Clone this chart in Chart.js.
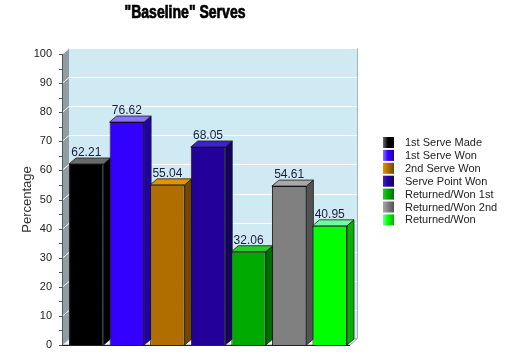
<!DOCTYPE html>
<html>
<head>
<meta charset="utf-8">
<script src="https://cdn.jsdelivr.net/npm/chart.js@4/dist/chart.umd.min.js"></script>
<style>
  html, body { margin: 0; padding: 0; background: #fff; }
</style>
</head>
<body>
<canvas id="chart" width="512" height="354"></canvas>
<script>
// data
const categories = ["1st Serve Made", "1st Serve Won", "2nd Serve Won", "Serve Point Won",
                    "Returned/Won 1st", "Returned/Won 2nd", "Returned/Won"];
const values = [62.21, 76.62, 55.04, 68.05, 32.06, 54.61, 40.95];
const yTickValues = [0, 10, 20, 30, 40, 50, 60, 70, 80, 90, 100];

const frontColors = ["#000000", "#3300ff", "#b06e00", "#220099", "#00aa00", "#808080", "#00ff00"];
const sideColors  = ["#000000", "#2000a8", "#744800", "#14005e", "#006e00", "#525252", "#00b400"];
const topColors   = ["#6a6a6a", "#8a70ff", "#e69200", "#3b22cc", "#2cc82c", "#a8a8a8", "#6dff9a"];

// depth of the fake 3D
const DX = 7, DY = 6;

function poly(ctx, pts, fill, stroke) {
    ctx.beginPath();
    ctx.moveTo(pts[0][0], pts[0][1]);
    pts.slice(1).forEach(p => ctx.lineTo(p[0], p[1]));
    ctx.closePath();
    if (fill) { ctx.fillStyle = fill; ctx.fill(); }
    if (stroke) { ctx.strokeStyle = stroke; ctx.stroke(); }
}

// ✅ walls, floor, grid and the side/top faces of the bars
const threeD = {
    id: "threeD",
    beforeDatasetsDraw(chart) {
        const { ctx, chartArea: a, scales: { y } } = chart;
        const FL = a.left - 4, T = a.top, B = a.bottom, R = a.right;
        ctx.save();
        ctx.lineWidth = 1;

        // back wall
        poly(ctx, [[FL + DX, T - DY], [R + DX, T - DY], [R + DX, B - DY], [FL + DX, B - DY]], "#cfeaf2", null);
        ctx.strokeStyle = "#a9b4b8";
        ctx.beginPath();
        ctx.moveTo(FL + DX, T - DY + 0.5); ctx.lineTo(R + DX + 0.5, T - DY + 0.5); ctx.lineTo(R + DX + 0.5, B - DY);
        ctx.stroke();

        // left wall
        poly(ctx, [[FL, B], [FL, T], [FL + DX, T - DY], [FL + DX, B - DY]], "#8f9ea3", null);

        // floor
        poly(ctx, [[FL, B], [R, B], [R + DX, B - DY], [FL + DX, B - DY]], "#f4f4f4", "#9aa4a8");

        // grid lines
        ctx.strokeStyle = "#ffffff";
        yTickValues.forEach(v => {
            if (v === 0) return;
            const yy = Math.round(y.getPixelForValue(v)) + 0.5;
            ctx.beginPath();
            ctx.moveTo(FL, yy);
            ctx.lineTo(FL + DX, yy - DY);
            ctx.lineTo(R + DX, yy - DY);
            ctx.stroke();
        });

        // axis line and tick marks (every 5)
        ctx.strokeStyle = "#555";
        ctx.beginPath();
        ctx.moveTo(FL + 0.5, T); ctx.lineTo(FL + 0.5, B);
        for (let v = 0; v <= 100; v += 5) {
            const yy = Math.round(y.getPixelForValue(v)) + 0.5;
            ctx.moveTo(FL - 3, yy); ctx.lineTo(FL + 1, yy);
        }
        ctx.stroke();
        ctx.strokeStyle = "#222";
        ctx.beginPath();
        ctx.moveTo(FL, B + 0.5); ctx.lineTo(R, B + 0.5);
        ctx.stroke();

        // sides and tops of bars
        const meta = chart.getDatasetMeta(0);
        ctx.lineWidth = 0.8;
        meta.data.forEach((el, i) => {
            const l = el.x - el.width / 2, r = el.x + el.width / 2;
            poly(ctx, [[r, el.y], [r + DX, el.y - DY], [r + DX, el.base - DY], [r, el.base]], sideColors[i], "#1a1a1a");
            poly(ctx, [[l, el.y], [l + DX, el.y - DY], [r + DX, el.y - DY], [r, el.y]], topColors[i], "#1a1a1a");
        });
        ctx.restore();
    },
    afterDatasetsDraw(chart) {
        const { ctx } = chart;
        const meta = chart.getDatasetMeta(0);
        ctx.save();
        ctx.font = "12px 'Liberation Sans', Arial, sans-serif";
        ctx.fillStyle = "#1c1c3a";
        ctx.textAlign = "center";
        ctx.textBaseline = "bottom";
        meta.data.forEach((el, i) => {
            ctx.fillText(values[i].toFixed(2), el.x, el.y - DY + 1);
        });
        ctx.restore();
    },
    afterDraw(chart) {
        const { ctx } = chart;
        ctx.save();
        // title, squeezed and slightly stroked to look like a heavy condensed face
        ctx.font = "bold 18px 'Liberation Sans', Arial, sans-serif";
        ctx.fillStyle = "#000";
        ctx.strokeStyle = "#000";
        ctx.lineWidth = 0.7;
        ctx.textAlign = "center";
        ctx.textBaseline = "middle";
        ctx.translate(185, 13);
        ctx.scale(0.78, 1);
        ctx.fillText('"Baseline" Serves', 0, 0);
        ctx.strokeText('"Baseline" Serves', 0, 0);
        ctx.restore();

        // legend
        ctx.save();
        ctx.font = "11px 'Liberation Sans', Arial, sans-serif";
        ctx.textAlign = "left";
        ctx.textBaseline = "middle";
        categories.forEach((c, i) => {
            const yy = 137 + i * 12.9;
            const g = ctx.createLinearGradient(383, 0, 394, 0);
            g.addColorStop(0, topColors[i]);
            g.addColorStop(0.45, frontColors[i]);
            g.addColorStop(1, sideColors[i]);
            ctx.fillStyle = g;
            ctx.fillRect(383, yy, 11, 11);
            ctx.fillStyle = "#222";
            ctx.fillText(c, 405, yy + 6);
        });
        ctx.restore();
    }
};

new Chart(document.getElementById("chart"), {
    type: "bar",
    data: {
        labels: categories,
        datasets: [{
            data: values,
            backgroundColor: frontColors,
            borderColor: "#111",
            borderWidth: 1,
            barPercentage: 0.85,
            categoryPercentage: 1
        }]
    },
    options: {
        responsive: false,
        animation: false,
        devicePixelRatio: 1,
        layout: { padding: { top: 54, right: 162, bottom: 9, left: 0 } },
        plugins: {
            legend: { display: false },
            title: { display: false },
            tooltip: { enabled: false }
        },
        scales: {
            x: { display: false },
            y: {
                min: 0,
                max: 100,
                afterBuildTicks(scale) {
                    scale.ticks = yTickValues.map(v => ({ value: v }));
                },
                ticks: {
                    padding: 6,
                    color: "#222",
                    font: { family: "'Liberation Sans', Arial, sans-serif", size: 11 }
                },
                grid: { display: false },
                border: { display: false },
                title: {
                    display: true,
                    text: "Percentage",
                    color: "#333",
                    padding: { top: 20, bottom: 0 },
                    font: { family: "'Liberation Sans', Arial, sans-serif", size: 13 }
                },
                afterFit(scale) {
                    scale.width = 66;
                    scale.paddingTop = 0;
                    scale.paddingBottom = 0;
                }
            }
        }
    },
    plugins: [threeD]
});
</script>
</body>
</html>
